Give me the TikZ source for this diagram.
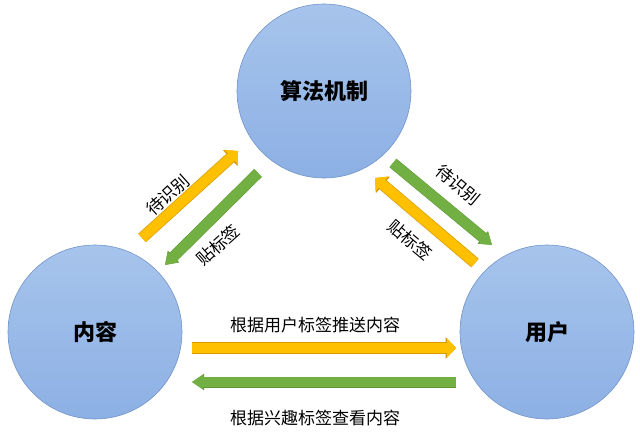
\documentclass[tikz,border=0pt]{standalone}
\usepackage{fontspec}
\setmainfont{Noto Sans CJK SC}
\usepackage{tikz}
\usetikzlibrary{arrows.meta}
\definecolor{ballfill}{HTML}{A6C4EC}
\definecolor{ballshade}{HTML}{8DB0E4}
\definecolor{ballline}{HTML}{7394C8}
\definecolor{gold}{HTML}{FFC000}
\definecolor{goldline}{HTML}{D69A00}
\definecolor{leaf}{HTML}{72B043}
\definecolor{leafline}{HTML}{5C9733}
\tikzset{x=1pt, y=-1pt,
    ball/.style = {circle, draw=ballline, line width=0.6pt, top color=ballfill,
                   bottom color=ballshade, minimum size=174pt, inner sep=0pt,
                   font=\fontsize{22}{22}\selectfont\bfseries},
    goarrow/.style = {draw=gold, line width=10pt, -{Triangle[length=9pt, width=19pt]},
                      preaction={draw=goldline, line width=11.4pt,
                                 -{Triangle[length=10.5pt, width=21pt]}}},
    backarrow/.style = {draw=leaf, line width=10pt, -{Triangle[length=11pt, width=14pt]},
                        preaction={draw=leafline, line width=11pt,
                                   -{Triangle[length=12pt, width=15.5pt]}}},
    tag/.style = {font=\fontsize{17}{17}\selectfont, inner sep=0pt}}

\begin{document}
\begin{tikzpicture}
    \useasboundingbox[fill=white] (0,0) rectangle (640,436);
    % the three parties
    \node[ball] (algo) at (324,91) {算法机制};
    \node[ball] (content) at (95,332) {内容};
    \node[ball] (user) at (547,332) {用户};
    % arrow ends
    \coordinate (a1) at (142,238); \coordinate (a2) at (238,151);
    \coordinate (b1) at (258,173); \coordinate (b2) at (165,265);
    \coordinate (c1) at (393,163); \coordinate (c2) at (492,245);
    \coordinate (d1) at (475,263); \coordinate (d2) at (375,178);
    \coordinate (e1) at (192,348); \coordinate (e2) at (456,348);
    \coordinate (f1) at (456,382); \coordinate (f2) at (192,382);
    \draw[goarrow] (a1) -- (a2);
    \draw[backarrow] (b1) -- (b2);
    \draw[backarrow] (c1) -- (c2);
    \draw[goarrow] (d1) -- (d2);
    \draw[goarrow] (e1) -- (e2);
    \draw[backarrow] (f1) -- (f2);
    % labels
    \node[tag, rotate=42] (t1) at (168,195) {待识别};
    \node[tag, rotate=42] (t2) at (218,245) {贴标签};
    \node[tag, rotate=-40] (t3) at (458,185) {待识别};
    \node[tag, rotate=-40] (t4) at (410,240) {贴标签};
    \node[tag] (push) at (315,325) {根据用户标签推送内容};
    \node[tag] (view) at (315,418) {根据兴趣标签查看内容};
\end{tikzpicture}
\end{document}
